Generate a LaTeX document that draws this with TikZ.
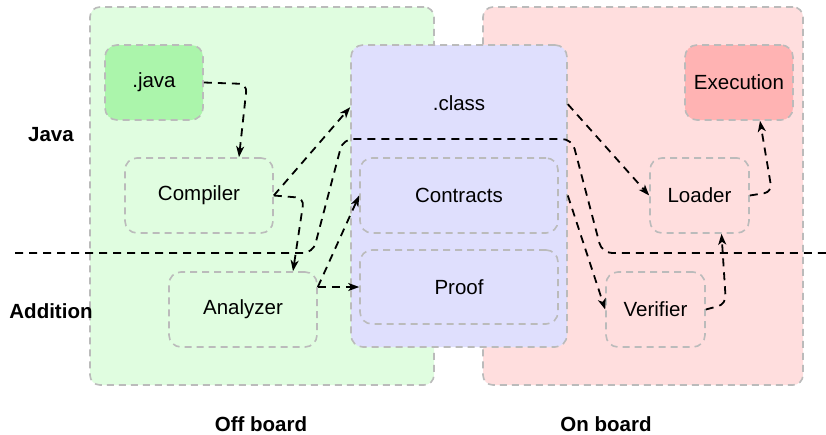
\documentclass[tikz,border=0pt]{standalone}
\usepackage{fontspec}
\setmainfont{Liberation Sans}
\usetikzlibrary{arrows.meta}

\definecolor{offfill}{HTML}{E0FDE0}
\definecolor{onfill}{HTML}{FFDEDE}
\definecolor{classfill}{HTML}{DFDFFD}
\definecolor{javafill}{HTML}{ABF5AB}
\definecolor{execfill}{HTML}{FFB3B3}
\definecolor{gbord}{HTML}{BBBBBB}

\newcommand\boxfont{\fontsize{20.5}{24}\selectfont}
\newcommand\layerfont{\fontsize{20.5}{24}\selectfont\bfseries}

\begin{document}
\begin{tikzpicture}[x=1pt,y=-1pt,
  region/.style={draw=gbord, line width=1.6pt, dash pattern=on 7pt off 5pt,
    rounded corners=10pt, inner sep=0pt},
  item/.style={draw=gbord, line width=1.6pt, dash pattern=on 7pt off 5pt,
    rounded corners=12pt, inner sep=0pt, font=\boxfont,
    minimum height=75pt},
  flow/.style={draw=black, line width=1.8pt, dash pattern=on 8pt off 6pt,
    rounded corners=8pt, -{Stealth[length=11pt,width=8pt,inset=3pt]}},
  sepline/.style={draw=black, line width=1.8pt, dash pattern=on 8pt off 6pt,
    rounded corners=10pt},
  layerlbl/.style={font=\layerfont, inner sep=0pt}]

\useasboundingbox (0,0) rectangle (826,434);

% swimlanes
\node[region, fill=offfill, minimum width=344pt, minimum height=378pt] (offboard) at (262,196) {};
\node[region, fill=onfill, minimum width=320pt, minimum height=378pt] (onboard) at (643,196) {};
\node[region, fill=classfill, rounded corners=12pt, minimum width=216pt, minimum height=302pt] (classbox) at (459,196) {};
\node[font=\boxfont, inner sep=0pt] (classlbl) at (459,103) {.class};

% components
\node[item, fill=javafill, minimum width=98pt] (java) at (154,82.5) {.java};
\node[item, minimum width=148pt] (compiler) at (199,195.5) {Compiler};
\node[item, minimum width=148pt] (analyzer) at (243,309.5) {Analyzer};
\node[item, minimum width=198pt] (contracts) at (459,195.5) {Contracts};
\node[item, minimum width=198pt, minimum height=74pt] (proof) at (459,287) {Proof};
\node[item, fill=execfill, minimum width=108pt] (execution) at (739,82.5) {Execution};
\node[item, minimum width=99pt] (loader) at (699.5,195.5) {Loader};
\node[item, minimum width=99pt] (verifier) at (655.5,309.5) {Verifier};

% layer and lane labels
\node[layerlbl] (javalayer) at (51,135) {Java};
\node[layerlbl] (addlayer) at (51,311) {Addition};
\node[layerlbl] (offlbl) at (261,424) {Off board};
\node[layerlbl] (onlbl) at (606,424) {On board};

% layer separator
\coordinate (sepL) at (15,253);
\coordinate (sepR) at (826,253);
\draw[sepline] (sepL) -- (313,253) -- (343,139) -- (572,139) -- (602,253) -- (sepR);

% data flow
\draw[flow] (java.east) -- (247,84) -- ([xshift=40pt]compiler.north);
\draw[flow] (compiler.east) -- ([yshift=-63pt]classbox.north west);
\draw[flow] (compiler.east) -- (304,198) -- ([xshift=50pt]analyzer.north);
\coordinate (afork) at ([yshift=22.5pt]analyzer.east);
\draw[flow] (afork) -- (contracts.west);
\draw[flow] (afork) -- (proof.west);
\draw[flow] ([yshift=-60pt]classbox.north east) -- (loader.west);
\draw[flow] (classbox.east |- contracts.east) -- (verifier.west);
\draw[flow] (verifier.east) -- (726,304) -- ([xshift=22pt]loader.south);
\draw[flow] (loader.east) -- (772,192) -- ([xshift=21pt]execution.south);

\end{tikzpicture}
\end{document}
